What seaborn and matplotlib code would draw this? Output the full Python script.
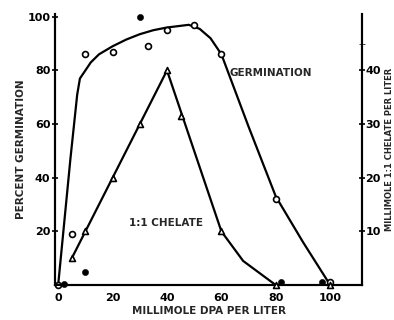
import matplotlib
matplotlib.use("Agg")
import matplotlib.pyplot as plt
import seaborn as sns
import pandas as pd

# germination (left axis, percent)
germ_open_x = [0, 5, 10, 20, 33, 40, 50, 60, 80, 100]
germ_open_y = [0, 19, 86, 87, 89, 95, 97, 86, 32, 1]
germ_dot_x = [2, 10, 30, 82, 97]
germ_dot_y = [0.5, 5, 100, 1, 1]
germ_curve_x = [0, 4.5, 7, 8, 10, 12, 15, 20, 25, 30, 35, 40, 44, 48, 52, 56, 60, 70, 80, 90, 100]
germ_curve_y = [0, 47, 71, 77, 80, 83, 86, 89, 91.5, 93.5, 95, 96, 96.5, 97, 95.5, 92, 86, 59, 33, 16, 0]

# 1:1 chelate (right axis, millimole per liter)
chel_x = [5, 10, 20, 30, 40, 45, 60, 80, 100]
chel_y = [5, 10, 20, 30, 40, 31.5, 10, 0, 0]
chel_line_x = [5, 10, 20, 30, 40, 60, 68, 80, 100]
chel_line_y = [5, 10, 20, 30, 40, 10, 4.5, 0, 0]

sns.set_style("white")
plt.rcParams['font.family'] = ['DejaVu Sans']
plt.rcParams['font.weight'] = 'bold'

fig = plt.figure(figsize=(3.94, 3.2), dpi=100)
ax = fig.add_axes([0.140, 0.109, 0.779, 0.847])
ax2 = ax.twinx()

sns.lineplot(x=germ_curve_x, y=germ_curve_y, ax=ax, color='black', lw=1.6, sort=False)
sns.scatterplot(x=germ_open_x, y=germ_open_y, ax=ax, marker='o', s=18,
                facecolor='white', edgecolor='black', linewidth=1.2, zorder=5, clip_on=False)
sns.scatterplot(x=germ_dot_x, y=germ_dot_y, ax=ax, marker='o', s=20,
                color='black', edgecolor='black', zorder=5, clip_on=False)

sns.lineplot(x=chel_line_x, y=chel_line_y, ax=ax2, color='black', lw=1.6, sort=False)
sns.scatterplot(x=chel_x, y=chel_y, ax=ax2, marker='^', s=18,
                facecolor='white', edgecolor='black', linewidth=1.2, zorder=5, clip_on=False)

ax.set_xlim(-1.1, 111.7)
ax.set_ylim(0, 101)
ax2.set_ylim(0, 50.5)

ax.set_xticks([0, 20, 40, 60, 80, 100])
ax.set_yticks([20, 40, 60, 80, 100])
ax2.set_yticks([10, 20, 30, 40])
ax2.set_yticks([45], minor=True)

for a in (ax, ax2):
    for s in a.spines.values():
        s.set_linewidth(1.5)
        s.set_color('black')
    a.spines['top'].set_visible(False)
    a.tick_params(labelsize=8, width=1.2, colors='black')

ax.tick_params(axis='y', direction='inout', length=5, pad=1)
ax.tick_params(axis='x', direction='in', length=3, pad=6)
ax2.tick_params(axis='y', which='both', direction='inout', length=5, pad=0)

ax.set_xlabel("MILLIMOLE DPA PER LITER", fontsize=7.5, fontweight='bold', labelpad=2)
ax.set_ylabel("PERCENT GERMINATION", fontsize=7.5, fontweight='bold', labelpad=1)
ax2.set_ylabel("MILLIMOLE 1:1 CHELATE PER LITER", fontsize=6, fontweight='bold',
               va='center', ha='center')
ax2.yaxis.set_label_coords(1.088, 0.5)

ax.text(63, 79, "GERMINATION", fontsize=7.5, fontweight='bold', ha='left', va='center')
ax.text(26, 23, "1:1 CHELATE", fontsize=7.5, fontweight='bold', ha='left', va='center')

fig.savefig("out.png", dpi=100)
